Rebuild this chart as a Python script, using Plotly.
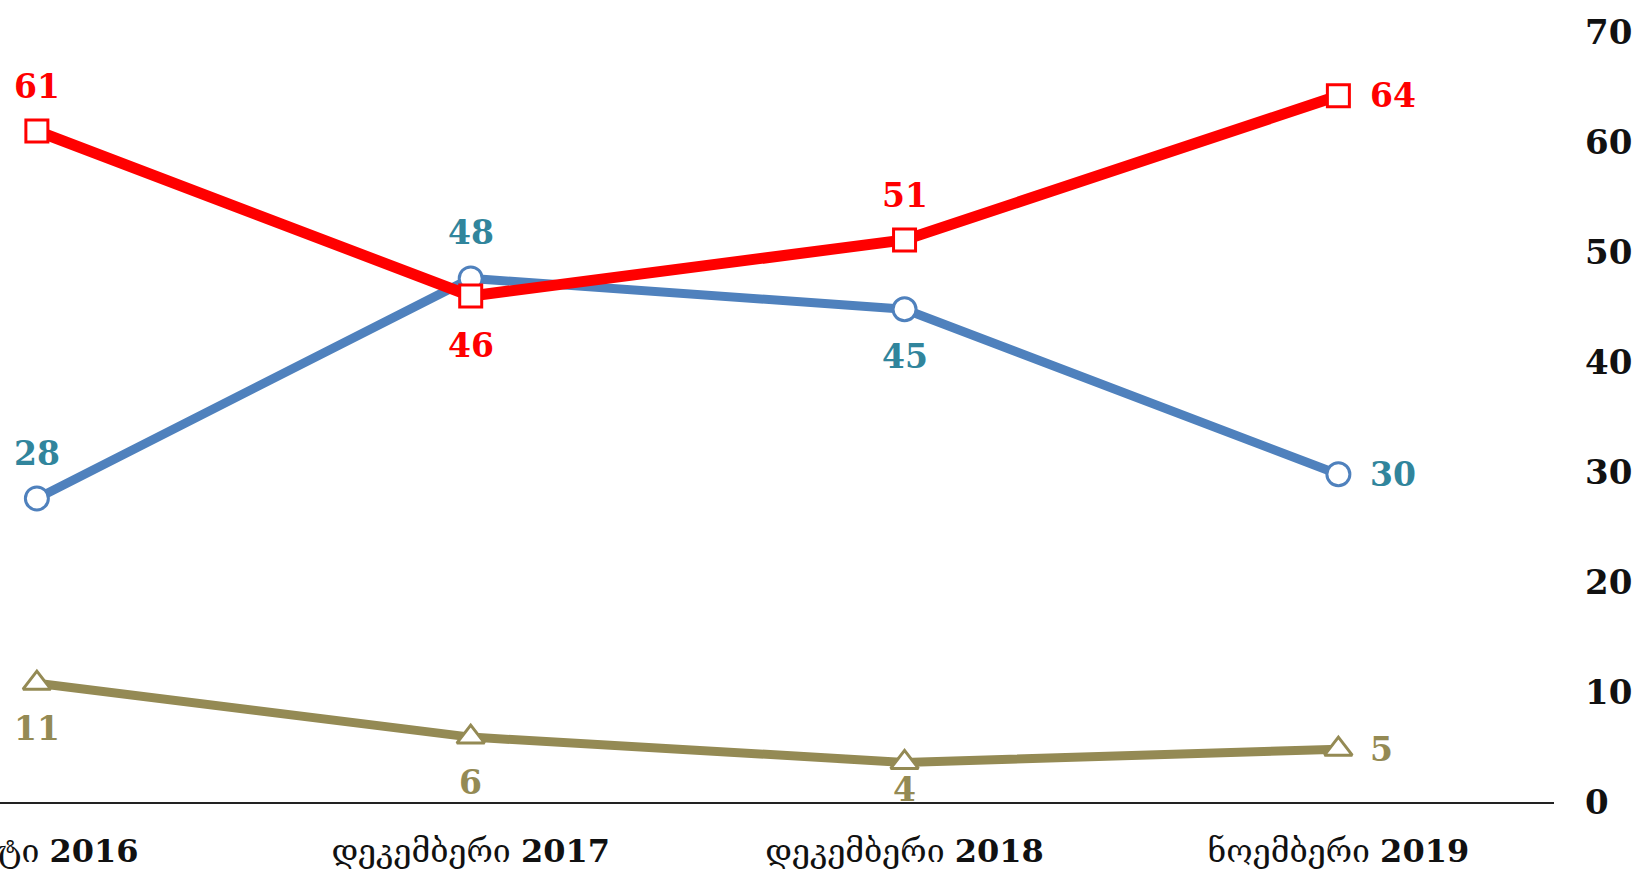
import plotly.graph_objects as go

categories = ["მარტი 2016", "დეკემბერი 2017", "დეკემბერი 2018", "ნოემბერი 2019"]
red_values = [61.0, 46.0, 51.1, 64.2]
blue_values = [27.6, 47.6, 44.8, 29.8]
olive_values = [10.8, 5.9, 3.6, 4.8]
y_ticks = [0, 10, 20, 30, 40, 50, 60, 70]

x_pos = list(range(len(categories)))

def tick_text(c):
    parts = c.rsplit(" ", 1)
    return f"{parts[0]} <b>{parts[1]}</b>"

RED = "#FF0000"
BLUE = "#4F81BD"
TEAL = "#31859C"
OLIVE = "#948A54"

fig = go.Figure()

fig.add_trace(go.Scatter(
    x=x_pos, y=olive_values, mode="lines+markers",
    line=dict(color=OLIVE, width=9),
    marker=dict(symbol="triangle-up", size=24, color="white", line=dict(color=OLIVE, width=3)),
    cliponaxis=False, hoverinfo="skip"))
fig.add_trace(go.Scatter(
    x=x_pos, y=blue_values, mode="lines+markers",
    line=dict(color=BLUE, width=9),
    marker=dict(symbol="circle", size=23, color="white", line=dict(color=BLUE, width=3)),
    cliponaxis=False, hoverinfo="skip"))
fig.add_trace(go.Scatter(
    x=x_pos, y=red_values, mode="lines+markers",
    line=dict(color=RED, width=11),
    marker=dict(symbol="square", size=22, color="white", line=dict(color=RED, width=3)),
    cliponaxis=False, hoverinfo="skip"))

# label placement styles: (xshift, yshift, xanchor)
red_pos = [(0, 45, "center"), (0, -49, "center"), (0, 44, "center"), (30, 0, "left")]
blue_pos = [(0, 45, "center"), (0, 46, "center"), (0, -47, "center"), (30, 0, "left")]
olive_pos = [(0, -45, "center"), (0, -45, "center"), (0, -27, "center"), (30, 0, "left")]

annotations = []
for vals, pos, col in [(red_values, red_pos, RED), (blue_values, blue_pos, TEAL), (olive_values, olive_pos, OLIVE)]:
    for xi, v, (dx, dy, xa) in zip(x_pos, vals, pos):
        annotations.append(dict(
            x=xi, y=v, xref="x", yref="y", text=f"{round(v)}", showarrow=False,
            xshift=dx, yshift=dy, xanchor=xa, yanchor="middle",
            font=dict(family="DejaVu Serif", size=33, color=col, weight="bold")))

fig.update_layout(
    width=1643, height=872,
    template="none",
    paper_bgcolor="white", plot_bgcolor="white",
    showlegend=False,
    margin=dict(l=0, r=89, t=32, b=70, autoexpand=False),
    annotations=annotations,
    xaxis=dict(
        range=[-0.085, 3.497], tickmode="array", tickvals=x_pos,
        ticktext=[tick_text(c) for c in categories],
        showgrid=False, zeroline=False, showline=True, linecolor="#222", linewidth=1.5,
        ticks="", ticklabelstandoff=20, automargin=False, ticklabeloverflow="allow",
        tickfont=dict(family="DejaVu Serif, DejaVu Sans, Noto Sans", size=32, color="#111"),
    ),
    yaxis=dict(
        range=[0, 70], side="right", tickmode="array", tickvals=y_ticks,
        ticktext=[str(t) for t in y_ticks],
        showgrid=False, zeroline=False, showline=False, ticks="",
        ticklabelstandoff=30, automargin=False, ticklabeloverflow="allow",
        tickfont=dict(family="DejaVu Serif", size=34, color="#111", weight="bold"),
    ),
)

fig.write_html("out.html", config={"displayModeBar": False},
               post_script="document.body.style.margin='0';document.body.style.overflow='hidden';")
